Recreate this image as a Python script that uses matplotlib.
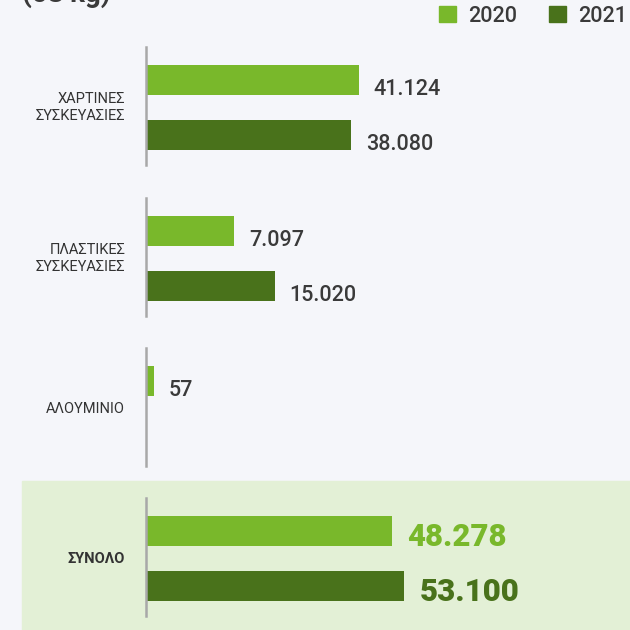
import numpy as np
import matplotlib.pyplot as plt
from matplotlib.patches import Rectangle

plt.rcParams['font.family'] = ['Roboto', 'DejaVu Sans']

# data
categories = ['ΧΑΡΤΙΝΕΣ\nΣΥΣΚΕΥΑΣΙΕΣ', 'ΠΛΑΣΤΙΚΕΣ\nΣΥΣΚΕΥΑΣΙΕΣ', 'ΑΛΟΥΜΙΝΙΟ', 'ΣΥΝΟΛΟ']
years = ['2020', '2021']
values_2020 = [41124, 7097, 57, 48278]
values_2021 = [38080, 15020, None, 53100]
title = '(σε kg)'

light = '#79b82b'
dark = '#49721b'
text_col = '#3a3a3a'
bg = '#f5f6fa'
panel = '#e3f0d6'

W, H = 630, 630
tops = [47, 198, 348, 498]
ax_h = 118


def fmt(v):
    return f'{v:,}'.replace(',', '.')


def sqrt_fwd(x):
    return np.sqrt(np.clip(x, 0, None))


def main():
    fig = plt.figure(figsize=(W / 100, H / 100), dpi=100, facecolor=bg)

    # light green box behind the total
    fig.add_artist(Rectangle((22 / W, 0), 1 - 22 / W, (H - 481) / H,
                             transform=fig.transFigure, color=panel, zorder=0))

    # title sits mostly above the top edge, as in the source
    fig.text(22 / W, 1 - 1.5 / H, title, fontsize=20, fontweight='bold',
             color=text_col, va='baseline', ha='left')

    bar_h = 30 / 54
    for i, cat in enumerate(categories):
        total = (i == len(categories) - 1)
        ax = fig.add_axes([146 / W, 1 - (tops[i] + ax_h) / H, 469 / W, ax_h / H])
        ax.set_facecolor('none')
        ax.set_xscale('function', functions=(sqrt_fwd, np.square))
        ax.set_xlim(0, 175000 if total else 200000)
        ax.set_ylim(1 + 30 / 54, -33 / 54)

        for y, v, c in [(0, values_2020[i], light), (1, values_2021[i], dark)]:
            if v is None:
                continue
            ax.barh(y, v, height=bar_h, color=c)
            ax.annotate(fmt(v), xy=(v, y + bar_h / 2), xytext=(10.8, 0),
                        textcoords='offset points', ha='left', va='baseline',
                        fontsize=22.5 if total else 15.5,
                        fontweight='heavy' if total else 'medium',
                        color=c if total else text_col)

        ax.annotate(cat, xy=(0, 0.5), xycoords=('axes fraction', 'data'),
                    xytext=(-15, 0), textcoords='offset points',
                    ha='right', va='center', multialignment='right',
                    linespacing=1.3, fontsize=10.5,
                    fontweight='bold' if total else 'normal', color='#333333')

        for s in ['top', 'right', 'bottom']:
            ax.spines[s].set_visible(False)
        ax.spines['left'].set_color('#a8a8a8')
        ax.spines['left'].set_linewidth(1.8)
        ax.set_xticks([])
        ax.set_yticks([])
        ax.minorticks_off()

    handles = [Rectangle((0, 0), 1, 1, color=light), Rectangle((0, 0), 1, 1, color=dark)]
    fig.legend(handles, years, loc='center right', bbox_to_anchor=(627 / W, 1 - 16 / H),
               ncol=2, frameon=False, fontsize=15.5, labelcolor=text_col,
               prop={'size': 15.5, 'weight': 'medium'},
               handlelength=0.8, handleheight=0.8, handletextpad=0.55,
               columnspacing=1.5, borderpad=0, borderaxespad=0)

    fig.savefig('out.png', dpi=100, facecolor=fig.get_facecolor())


main()
